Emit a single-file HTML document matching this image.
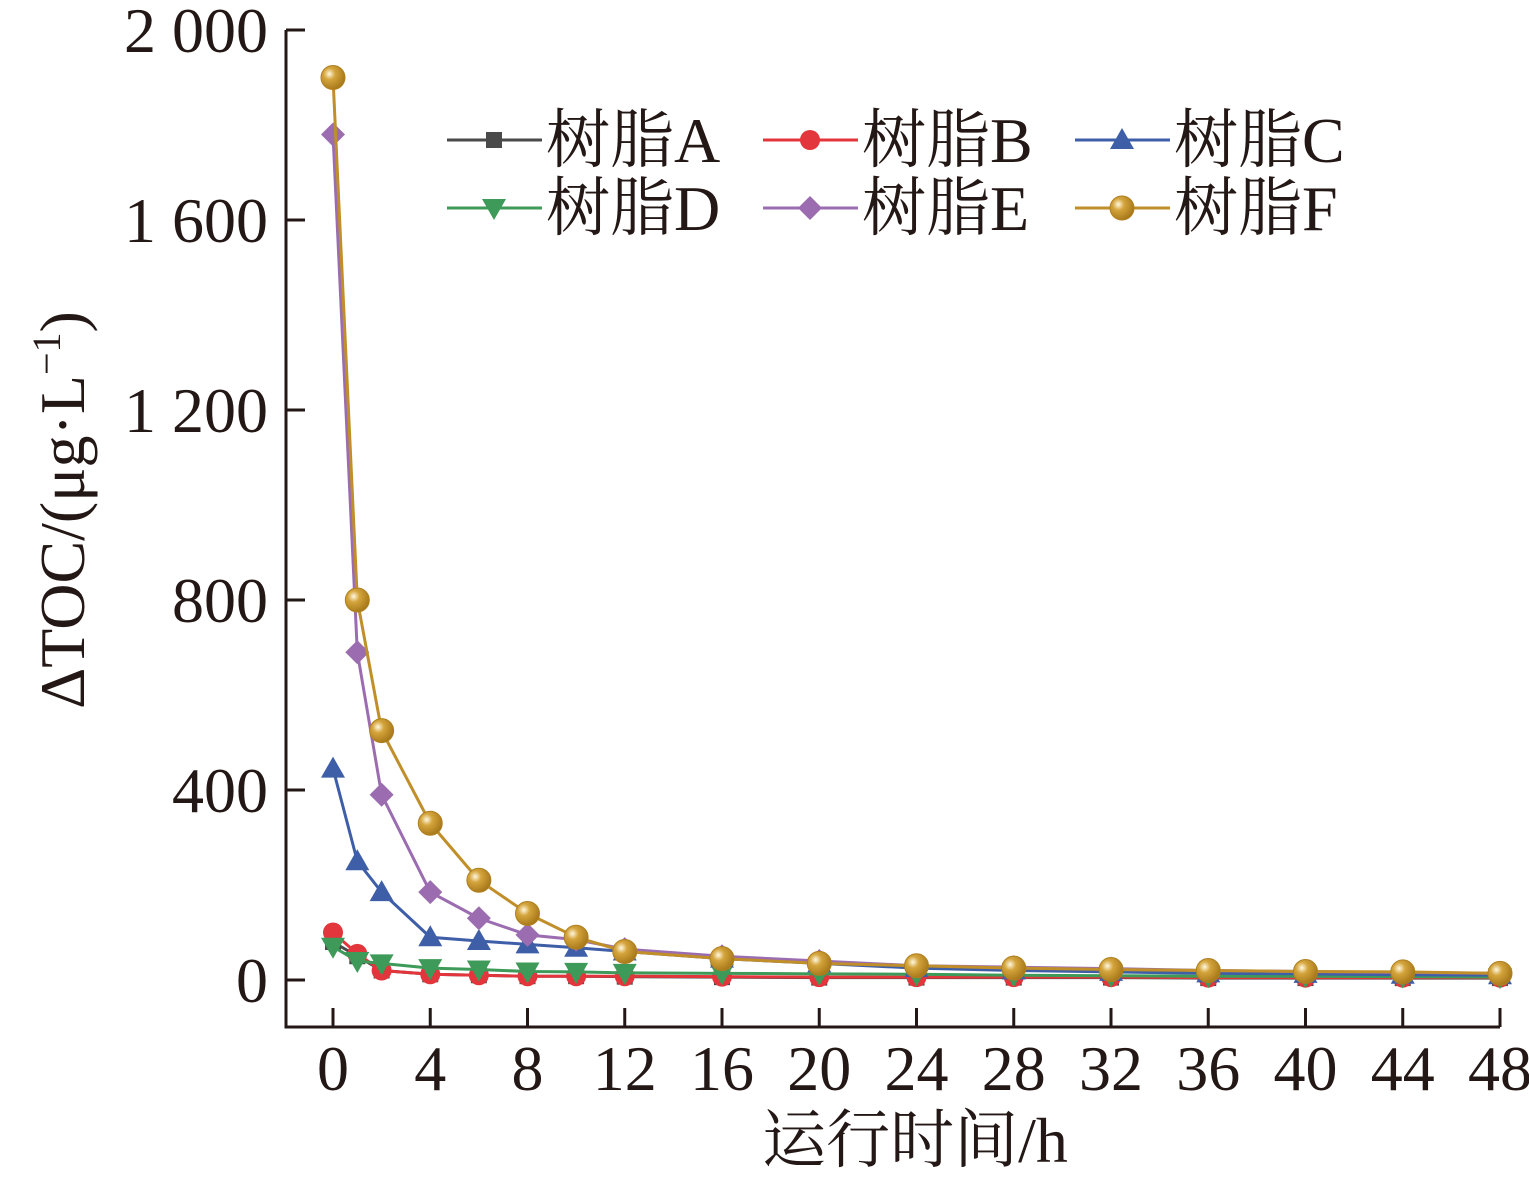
<!DOCTYPE html>
<html><head><meta charset="utf-8"><style>
html,body{margin:0;padding:0;background:#fff;}
svg{display:block;font-family:"Liberation Serif","Noto Serif CJK SC","Noto Sans CJK SC",serif;}
</style></head><body>
<svg id="chart" width="1529" height="1183" viewBox="0 0 1529 1183" xmlns="http://www.w3.org/2000/svg">
<defs>
<radialGradient id="ball" cx="0.35" cy="0.35" r="0.7"><stop offset="0" stop-color="#fff8e0"/><stop offset="0.35" stop-color="#d4a43c"/><stop offset="1" stop-color="#a57618"/></radialGradient>
</defs>
<g id="plot"></g>
</svg>
<script>
const hours = [0,1,2,4,6,8,10,12,16,20,24,28,32,36,40,44,48];
const xTicks = [0,4,8,12,16,20,24,28,32,36,40,44,48];
const yTicks = [0,400,800,1200,1600,2000];
const yTickLabels = ["0","400","800","1 200","1 600","2 000"];
const seriesNames = ["树脂A","树脂B","树脂C","树脂D","树脂E","树脂F"];
const resinA = [80,50,20,12,10,8,8,7,6,5,5,5,5,4,4,4,4];
const resinB = [100,55,20,12,10,8,8,8,7,6,6,6,6,5,5,5,5];
const resinC = [445,250,185,90,82,75,68,60,45,35,25,20,17,14,13,11,10];
const resinD = [70,40,35,25,22,18,17,15,14,13,12,10,9,8,8,7,6];
const resinE = [1780,690,390,185,130,95,85,65,50,40,30,27,24,20,18,16,14];
const resinF = [1900,800,525,330,210,140,90,60,45,35,30,25,22,20,18,17,14];

const NS="http://www.w3.org/2000/svg";
const g=document.getElementById('plot');
const X0=333, XS=(1500-333)/48, Y0=980, YS=(980-30)/2000;
const x=v=>X0+v*XS, y=v=>Y0-v*YS;
const FS=64;
function el(tag,attrs,parent){const e=document.createElementNS(NS,tag);for(const k in attrs)e.setAttribute(k,attrs[k]);(parent||g).appendChild(e);return e;}

const ax=el('path',{d:'M286 30 V1027 H1500',fill:'none',stroke:'#231815','stroke-width':3});


yTicks.forEach((t,i)=>{
  const tk=el('line',{x1:286,x2:305,y1:y(t),y2:y(t),stroke:'#231815','stroke-width':3});
  
  
  const tl=el('text',{x:268,y:y(t)+22,'text-anchor':'end','font-size':FS,fill:'#231815'});
  tl.textContent=yTickLabels[i];
  
  
});
xTicks.forEach(t=>{
  const tk=el('line',{x1:x(t),x2:x(t),y1:1008,y2:1027,stroke:'#231815','stroke-width':3});
  
  
  const tl=el('text',{x:x(t),y:1090,'text-anchor':'middle','font-size':FS,fill:'#231815'});
  tl.textContent=String(t);
  
  
});
const xt=el('text',{x:915,y:1162,'text-anchor':'middle','font-size':FS,fill:'#231815'});
xt.textContent='运行时间/h';


const yt=el('text',{x:0,y:0,'text-anchor':'middle','font-size':FS,fill:'#231815',transform:'translate(84,510) rotate(-90)'});
yt.innerHTML='ΔTOC/(μg·L<tspan dy="-24" font-size="40">−1</tspan><tspan dy="24">)</tspan>';



function marker(type,cx,cy,color,parent){
  if(type==='square') return el('rect',{x:cx-8,y:cy-8,width:16,height:16,fill:color},parent);
  if(type==='circle') return el('circle',{cx,cy,r:10,fill:color},parent);
  if(type==='up') return el('path',{d:`M${cx} ${cy-12} L${cx+12} ${cy+9} L${cx-12} ${cy+9}Z`,fill:color},parent);
  if(type==='down') return el('path',{d:`M${cx} ${cy+12} L${cx+12} ${cy-9} L${cx-12} ${cy-9}Z`,fill:color},parent);
  if(type==='diamond') return el('path',{d:`M${cx} ${cy-12} L${cx+12} ${cy} L${cx} ${cy+12} L${cx-12} ${cy}Z`,fill:color},parent);
  return el('circle',{cx,cy,r:12,fill:'url(#ball)',stroke:'#b08020','stroke-width':1},parent);
}
const series=[
 {d:resinA,c:'#4a4a4a',m:'square',n:'resin-a'},
 {d:resinB,c:'#e2363c',m:'circle',n:'resin-b'},
 {d:resinD,c:'#3d9a58',m:'down',n:'resin-d'},
 {d:resinC,c:'#3f5ea8',m:'up',n:'resin-c'},
 {d:resinE,c:'#9b6db0',m:'diamond',n:'resin-e'},
 {d:resinF,c:'#c08f2a',m:'ball',n:'resin-f'}
];
series.forEach(s=>{
  const sg=el('g',{});
  
  
  const ln=el('polyline',{points:s.d.map((v,i)=>x(hours[i])+','+y(v)).join(' '),fill:'none',stroke:s.c,'stroke-width':3},sg);
  
  
  s.d.forEach((v,i)=>{
    const m=marker(s.m,x(hours[i]),y(v),s.c,sg);
    
    
  });
});
const leg=[
 {c:'#4a4a4a',m:'square',lx:447,ly:140},
 {c:'#e2363c',m:'circle',lx:763,ly:140},
 {c:'#3f5ea8',m:'up',lx:1075,ly:140},
 {c:'#3d9a58',m:'down',lx:447,ly:208},
 {c:'#9b6db0',m:'diamond',lx:763,ly:208},
 {c:'#c08f2a',m:'ball',lx:1075,ly:208}
];
leg.forEach((L,i)=>{
  const lg=el('g',{});
  
  
  el('line',{x1:L.lx,x2:L.lx+95,y1:L.ly,y2:L.ly,stroke:L.c,'stroke-width':3},lg);
  marker(L.m,L.lx+47,L.ly,L.c,lg);
  const t=el('text',{x:L.lx+99,y:L.ly+22,'font-size':FS,fill:'#231815'},lg);
  t.textContent=seriesNames[i];
});
</script>
</body></html>
